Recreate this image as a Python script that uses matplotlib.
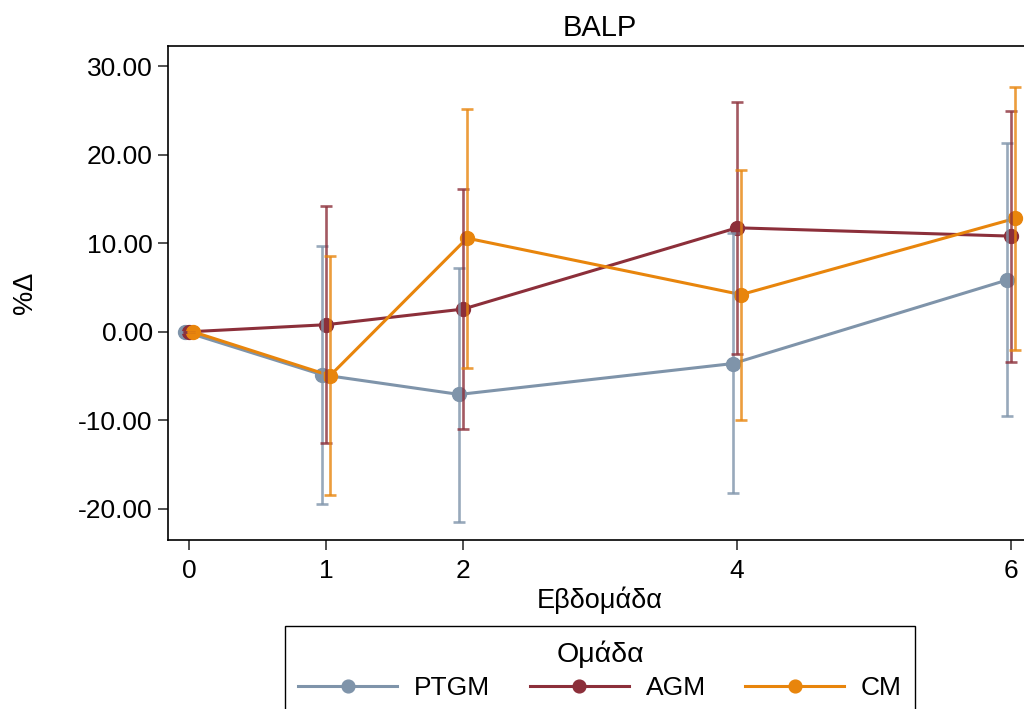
import numpy as np
import matplotlib
matplotlib.use('Agg')
import matplotlib.pyplot as plt
from matplotlib.patches import Rectangle
from matplotlib.ticker import FormatStrFormatter

plt.rcParams['font.family'] = ['Liberation Sans', 'DejaVu Sans']
plt.rcParams['axes.unicode_minus'] = False

# data (mean %change with CI bounds)
weeks = [0, 1, 2, 4, 6]
groups = ['PTGM', 'AGM', 'CM']

ptgm_mean = [0.0, -4.85, -7.07, -3.58, 5.85]
ptgm_lo = [0.0, -19.4, -21.5, -18.2, -9.45]
ptgm_hi = [0.0, 9.7, 7.2, 11.1, 21.3]

agm_mean = [0.0, 0.8, 2.56, 11.74, 10.8]
agm_lo = [0.0, -12.55, -10.95, -2.5, -3.4]
agm_hi = [0.0, 14.2, 16.1, 25.9, 24.9]

cm_mean = [0.0, -4.95, 10.57, 4.2, 12.8]
cm_lo = [0.0, -18.4, -4.1, -9.9, -2.05]
cm_hi = [0.0, 8.5, 25.2, 18.25, 27.6]

COLORS = ['#7f94aa', '#8c2f3a', '#e8850c']
OFFSETS = [-0.028, 0.0, 0.03]

series = [
    (ptgm_mean, ptgm_lo, ptgm_hi),
    (agm_mean, agm_lo, agm_hi),
    (cm_mean, cm_lo, cm_hi),
]

fig = plt.figure(figsize=(10.24, 7.09), dpi=100)
ax = fig.add_axes([168 / 1024, 1 - 540 / 709, 864 / 1024, 494 / 709])

x = np.array(weeks, dtype=float)

handles = []
for (m, lo, hi), c, off, name in zip(series, COLORS, OFFSETS, groups):
    h, = ax.plot(x + off, m, color=c, lw=2.2, marker='o', markersize=10,
                 label=name, zorder=2)
    handles.append(h)

for (m, lo, hi), c, off in zip(series, COLORS, OFFSETS):
    m = np.array(m)
    yerr = np.vstack([m - np.array(lo), np.array(hi) - m])
    ax.errorbar(x + off, m, yerr=yerr, fmt='none', ecolor=c, elinewidth=1.9,
                capsize=4.3, capthick=1.9, alpha=0.8, zorder=3)

ax.set_xlim(-0.153, 6.153)
ax.set_ylim(-23.5, 32.26)
ax.set_xticks(weeks)
ax.set_yticks([-20, -10, 0, 10, 20, 30])
ax.yaxis.set_major_formatter(FormatStrFormatter('%.2f'))

ax.tick_params(axis='both', labelsize=19, colors='#333333', labelcolor='black',
               length=7, width=1.2)
ax.tick_params(axis='x', pad=7)
ax.tick_params(axis='y', pad=4)

for s in ['left', 'top', 'bottom', 'right']:
    ax.spines[s].set_linewidth(1.2)
    ax.spines[s].set_color('black')

ax.set_title('BALP', fontsize=21, pad=7)
ax.set_xlabel('Εβδομάδα', fontsize=19.5)
ax.xaxis.set_label_coords(0.5, -0.094)
ax.set_ylabel('%Δ', fontsize=19.5)
ax.yaxis.set_label_coords(-0.150, 0.5)

# legend box runs past the bottom edge, as in the reference
fig.patches.append(Rectangle((285 / 1024, -0.05), 630 / 1024, 0.05 + 1 - 626 / 709,
                             transform=fig.transFigure, facecolor='white',
                             edgecolor='black', lw=1.0, zorder=1))
leg = fig.legend(handles=handles, labels=groups, loc='upper center',
                 bbox_to_anchor=(600 / 1024, 1 - 640 / 709), borderaxespad=0,
                 borderpad=0, ncol=3, title='Ομάδα', fontsize=19,
                 title_fontsize=20.5, handlelength=3.75, handletextpad=0.64,
                 columnspacing=1.5, labelspacing=0.33, markerscale=0.92,
                 frameon=False)
leg.set_zorder(5)
for lh in leg.get_lines():
    lh.set_linewidth(2.2)

fig.savefig('out.png', dpi=100)
